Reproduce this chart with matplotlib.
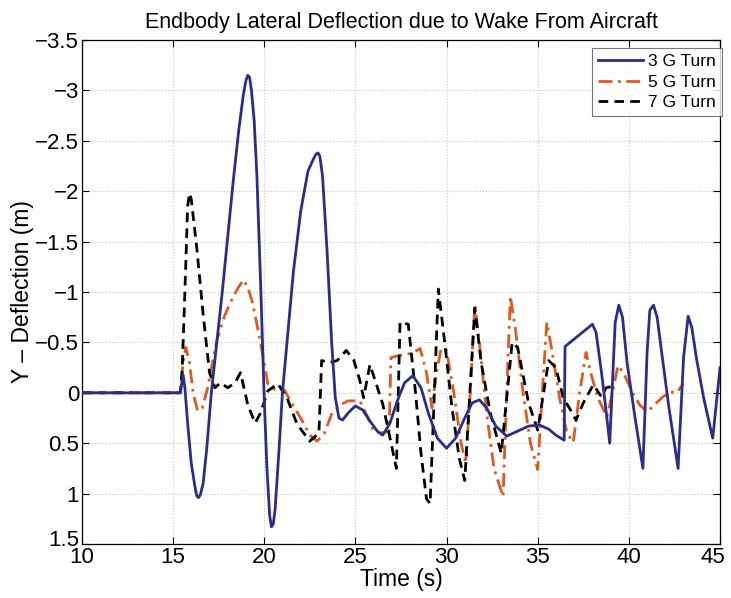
import matplotlib
matplotlib.use("Agg")
import matplotlib.pyplot as plt
from matplotlib.transforms import ScaledTranslation

plt.rcParams['font.family'] = ['Liberation Sans', 'DejaVu Sans']

# ---- data ----
t3 = [10, 15.4, 15.55, 15.65, 15.8, 16.0, 16.2, 16.3, 16.4, 16.5, 16.65, 16.85, 17.1, 17.4,
      17.7, 18.0, 18.3, 18.6, 18.85, 19.0, 19.1, 19.2, 19.3, 19.45, 19.6, 19.8, 20.0, 20.15,
      20.3, 20.4, 20.5, 20.6, 20.8, 21.0, 21.3, 21.6, 22.0, 22.4, 22.7, 22.85, 22.95, 23.05,
      23.2, 23.45, 23.7, 23.9, 24.1, 24.3, 24.6, 25.0, 25.4, 25.8, 26.2, 26.5, 26.9, 27.3,
      27.7, 28.15, 28.6, 29.0, 29.5, 30.0, 30.5, 31.0, 31.4, 31.8, 32.2, 32.7, 33.3, 33.9,
      34.5, 35.1, 35.6, 36.0, 36.45, 36.5, 38.0, 38.2, 38.5, 38.7, 38.95, 39.1, 39.25, 39.45,
      39.65, 39.9, 40.3, 40.77, 40.9, 41.0, 41.15, 41.35, 41.55, 41.8, 42.2, 42.7, 42.85,
      43.0, 43.25, 43.45, 43.7, 44.1, 44.6, 44.8, 45.0]
v3 = [0, 0, -0.18, -0.05, 0.3, 0.7, 0.93, 1.02, 1.04, 1.01, 0.9, 0.55, 0.0, -0.5,
      -1.0, -1.55, -2.1, -2.6, -2.95, -3.1, -3.15, -3.13, -3.0, -2.7, -2.15, -1.1, 0.05, 0.75,
      1.22, 1.33, 1.3, 1.15, 0.6, 0.0, -0.6, -1.2, -1.8, -2.2, -2.32, -2.37, -2.38, -2.35,
      -2.15, -1.4, -0.5, 0.05, 0.25, 0.27, 0.2, 0.13, 0.17, 0.28, 0.38, 0.42, 0.3, 0.08,
      -0.1, -0.17, -0.05, 0.2, 0.45, 0.55, 0.45, 0.25, 0.1, 0.07, 0.15, 0.33, 0.43, 0.38,
      0.33, 0.32, 0.36, 0.42, 0.47, -0.46, -0.68, -0.6, -0.2, 0.1, 0.5, -0.1, -0.7, -0.87,
      -0.75, -0.3, 0.2, 0.75, 0.1, -0.4, -0.82, -0.87, -0.75, -0.4, 0.15, 0.75, 0.2,
      -0.35, -0.76, -0.65, -0.35, 0.05, 0.45, 0.1, -0.25]

t5 = [10, 15.4, 15.55, 15.7, 15.9, 16.1, 16.35, 16.6, 16.9, 17.4, 17.8, 18.1, 18.5, 18.85,
      19.1, 19.35, 19.6, 19.95, 20.2, 20.6, 21.1, 21.5, 22.0, 22.5, 22.9, 23.3, 23.7, 24.15,
      24.6, 25.25, 25.7, 26.0, 26.4, 26.85, 26.95, 27.4, 27.8, 28.2, 28.55, 28.9, 29.2, 29.45,
      29.7, 30.0, 30.4, 30.8, 31.05, 31.3, 31.55, 31.8, 32.2, 32.6, 33.1, 33.3, 33.5, 33.8,
      34.2, 34.6, 35.0, 35.25, 35.5, 35.8, 36.2, 36.6, 36.95, 37.3, 37.65, 37.9, 38.3, 38.8,
      39.1, 39.4, 39.7, 40.2, 40.6, 41.0, 41.4, 41.8, 42.25, 42.6, 43.0]
v5 = [0, 0, -0.3, -0.45, -0.3, 0.0, 0.18, 0.15, -0.05, -0.52, -0.75, -0.88, -1.02, -1.12,
      -1.05, -0.9, -0.68, -0.35, -0.09, -0.03, -0.03, 0.1, 0.25, 0.42, 0.48, 0.4, 0.21, 0.12,
      0.08, 0.08, 0.25, 0.38, 0.4, 0.38, -0.35, -0.37, -0.38, -0.4, -0.44, -0.2, 0.15, -0.2,
      -0.44, -0.42, 0.0, 0.5, 0.7, 0.0, -0.88, -0.5, 0.2, 0.75, 1.03, 0.0, -0.96, -0.6,
      0.0, 0.5, 0.76, 0.0, -0.70, -0.4, 0.05, 0.4, 0.49, 0.0, -0.40, -0.2, 0.05, 0.24,
      0.0, -0.27, -0.2, 0.0, 0.12, 0.19, 0.12, 0.05, -0.01, 0.0, -0.09]

t7 = [10, 15.4, 15.5, 15.65, 15.8, 15.9, 16.0, 16.3, 16.65, 17.0, 17.3, 17.6, 18.0, 18.4, 18.7,
      19.1, 19.5, 19.8, 20.2, 20.75, 21.25, 21.8, 22.5, 23.0, 23.15, 23.6, 24.0, 24.5, 24.9,
      25.25, 25.45, 25.8, 26.5, 26.9, 27.25, 27.45, 27.9, 28.3, 28.6, 28.9, 29.1, 29.55, 29.9,
      30.3, 30.7, 31.0, 31.55, 31.9, 32.4, 33.0, 33.6, 33.9, 34.5, 35.0, 35.6, 36.0, 36.4,
      36.8, 37.1, 37.5, 38.05, 38.5, 38.75, 39.0]
v7 = [0, 0, -0.22, -1.0, -1.85, -1.98, -1.92, -1.44, -0.78, -0.2, -0.05, -0.1, -0.05, -0.1, -0.2,
      0.12, 0.3, 0.2, -0.02, -0.09, 0.05, 0.31, 0.48, 0.4, -0.32, -0.3, -0.32, -0.42, -0.33,
      -0.12, 0.05, -0.28, 0.11, 0.45, 0.75, -0.70, -0.68, 0.0, 0.6, 1.05, 1.1, -1.03, -0.5,
      0.15, 0.65, 0.87, -0.84, -0.3, 0.2, 0.6, -0.5, -0.45, 0.1, 0.37, -0.32, -0.25, 0.05,
      0.17, 0.27, 0.1, -0.08, 0.04, -0.05, -0.06]

labels = ['3 G Turn', '5 G Turn', '7 G Turn']
xticks = [10, 15, 20, 25, 30, 35, 40, 45]
yticks = [-3.5, -3, -2.5, -2, -1.5, -1, -0.5, 0, 0.5, 1, 1.5]
yticklabels = ['\u22123.5', '\u22123', '\u22122.5', '\u22122', '\u22121.5', '\u22121',
               '\u22120.5', '0', '0.5', '1', '1.5']

fig = plt.figure(figsize=(7.31, 5.98), dpi=100)
ax = fig.add_axes([0.112, 0.0903, 0.873, 0.8427])

ax.plot(t3, v3, color='#2b2d8c', lw=2.0, ls='-', label=labels[0], zorder=3)
ax.plot(t5, v5, color='#e05a1c', lw=2.0, ls=(0, (5, 2, 1, 2)), label=labels[1], zorder=2)
ax.plot(t7, v7, color='black', lw=2.0, ls=(0, (3.5, 2.2)), label=labels[2], zorder=2)

ax.set_xlim(10, 45)
ax.set_ylim(1.5, -3.5)
ax.set_xticks(xticks)
ax.set_yticks(yticks)
ax.set_yticklabels(yticklabels)
ax.tick_params(direction='in', top=True, right=True, labelsize=16, length=5, pad=2)
ax.grid(True, ls=':', color='#c8c8c8', lw=0.8)
for s in ax.spines.values():
    s.set_linewidth(0.9)

# keep the last x tick label inside the figure, lift the bottom y label off "10"
last = ax.get_xticklabels()[-1]
last.set_transform(last.get_transform() + ScaledTranslation(-5 / 72, 0, fig.dpi_scale_trans))
bot = ax.get_yticklabels()[-1]
bot.set_transform(bot.get_transform() + ScaledTranslation(0, 4 / 72, fig.dpi_scale_trans))

ax.set_title('Endbody Lateral Deflection due to Wake From Aircraft', fontsize=15.5, pad=9)
ax.set_xlabel('Time (s)', fontsize=16.5, labelpad=0)
ax.set_ylabel('Y \u2013 Deflection (m)', fontsize=16.5, labelpad=1)

leg = ax.legend(loc='upper right', bbox_to_anchor=(1.003, 0.984), borderaxespad=0,
                fontsize=12.5, frameon=True, fancybox=False, edgecolor='#555555',
                handlelength=2.6, handletextpad=0.3, borderpad=0.35, labelspacing=0.3)
leg.get_frame().set_linewidth(0.8)

fig.savefig('out.png', dpi=100)
